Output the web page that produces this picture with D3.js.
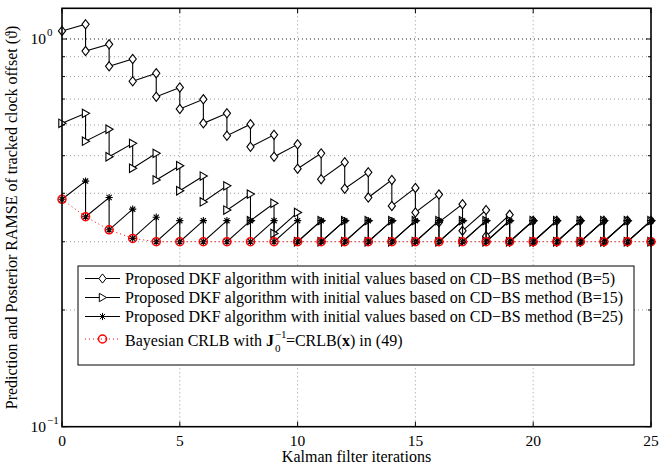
<!DOCTYPE html>
<html>
<head>
<meta charset="utf-8">
<script src="https://cdn.jsdelivr.net/npm/d3@7"></script>
<style>
  body { margin: 0; background: #fff; }
  svg { display: block; }
  text { font-family: "Liberation Serif", "Times New Roman", serif; }
</style>
</head>
<body>
<svg id="chart" width="659" height="466" font-family="Liberation Serif, Times New Roman, serif"></svg>
<script>
// Kalman filter iteration index
const iterations = [0,1,2,3,4,5,6,7,8,9,10,11,12,13,14,15,16,17,18,19,20,21,22,23,24,25];
const xTicks = [0,5,10,15,20,25];
const yTicks = [0.1, 1];

// B = 5: initial value, then prediction / posterior at iterations 1..25
const b5Init = 1.049;
const b5Pred = [1.091,0.969,0.888,0.816,0.750,0.699,0.643,0.603,0.566,0.535,0.507,0.481,0.453,0.433,0.413,0.397,0.375,0.362,0.352,0.340,0.340,0.340,0.340,0.340,0.340];
const b5Post = [0.931,0.850,0.778,0.710,0.660,0.606,0.563,0.527,0.497,0.463,0.435,0.411,0.390,0.371,0.357,0.337,0.320,0.310,0.300,0.300,0.300,0.300,0.300,0.300,0.300];

// B = 15
const b15Init = 0.606;
const b15Pred = [0.643,0.585,0.538,0.507,0.471,0.443,0.418,0.398,0.377,0.357,0.340,0.340,0.340,0.340,0.340,0.340,0.340,0.340,0.340,0.340,0.340,0.340,0.340,0.340,0.340];
const b15Post = [0.545,0.497,0.464,0.433,0.406,0.380,0.362,0.340,0.315,0.300,0.300,0.300,0.300,0.300,0.300,0.300,0.300,0.300,0.300,0.300,0.300,0.300,0.300,0.300,0.300];

// B = 25
const b25Init = 0.386;
const b25Pred = [0.430,0.390,0.364,0.347,0.340,0.340,0.340,0.340,0.340,0.340,0.340,0.340,0.340,0.340,0.340,0.340,0.340,0.340,0.340,0.340,0.340,0.340,0.340,0.340,0.340];
const b25Post = [0.348,0.322,0.306,0.300,0.300,0.300,0.300,0.300,0.300,0.300,0.300,0.300,0.300,0.300,0.300,0.300,0.300,0.300,0.300,0.300,0.300,0.300,0.300,0.300,0.300];

// Bayesian CRLB at iterations 0..25
const crlb = [0.386,0.348,0.322,0.306,0.300,0.300,0.300,0.300,0.300,0.300,0.300,0.300,0.300,0.300,0.300,0.300,0.300,0.300,0.300,0.300,0.300,0.300,0.300,0.300,0.300,0.300];

const legendLabels = [
  "Proposed DKF algorithm with initial values based on CD\u2212BS method (B=5)",
  "Proposed DKF algorithm with initial values based on CD\u2212BS method (B=15)",
  "Proposed DKF algorithm with initial values based on CD\u2212BS method (B=25)"
];

const svg = d3.select("#chart");
const L = 62, R = 651, T = 8.3, B = 426.7;

const x = d3.scaleLinear().domain([0, 25]).range([L, R]);
const y = d3.scaleLog().domain([0.1, 1.2]).range([B, T]);

// ---- grid ----
const grid = svg.append("g");
const minorY = [0.2,0.3,0.4,0.5,0.6,0.7,0.8,0.9];
grid.selectAll("line.minor").data(minorY).join("line")
  .attr("x1", L).attr("x2", R)
  .attr("y1", d => y(d)).attr("y2", d => y(d))
  .attr("stroke", "#9a9a9a").attr("stroke-width", 1)
  .attr("stroke-dasharray", "1,3");
grid.selectAll("line.major").data([1]).join("line")
  .attr("x1", L).attr("x2", R)
  .attr("y1", d => y(d)).attr("y2", d => y(d))
  .attr("stroke", "#222").attr("stroke-width", 1)
  .attr("stroke-dasharray", "1,3");
grid.selectAll("line.vx").data(xTicks.slice(1, -1)).join("line")
  .attr("x1", d => x(d)).attr("x2", d => x(d))
  .attr("y1", T).attr("y2", B)
  .attr("stroke", "#9a9a9a").attr("stroke-width", 1)
  .attr("stroke-dasharray", "1,3");

// ---- markers ----
const diamondPath = "M0,-4.6L3.6,0L0,4.6L-3.6,0Z";
const triPath = "M-3.2,-4.2L4,0L-3.2,4.2Z";
const starPath = "M-3.6,0L3.6,0M0,-3.6L0,3.6M-2.6,-2.6L2.6,2.6M-2.6,2.6L2.6,-2.6";

function sawtooth(init, pred, post) {
  const pts = [[0, init]];
  pred.forEach((p, i) => { pts.push([i + 1, p]); pts.push([i + 1, post[i]]); });
  return pts;
}

const line = d3.line().x(d => x(d[0])).y(d => y(d[1]));

const series = [
  { pts: sawtooth(b5Init, b5Pred, b5Post), marker: diamondPath, fill: "#fff" },
  { pts: sawtooth(b15Init, b15Pred, b15Post), marker: triPath, fill: "#fff" },
  { pts: sawtooth(b25Init, b25Pred, b25Post), marker: starPath, fill: "none" }
];

const plot = svg.append("g");
series.forEach(s => {
  plot.append("path").datum(s.pts).attr("d", line)
    .attr("fill", "none").attr("stroke", "#000").attr("stroke-width", 1.1);
  plot.append("g").selectAll("path").data(s.pts).join("path")
    .attr("transform", d => `translate(${x(d[0])},${y(d[1])})`)
    .attr("d", s.marker)
    .attr("fill", s.fill).attr("stroke", "#000").attr("stroke-width", 1.1);
});

// CRLB curve
const crlbPts = iterations.map((k, i) => [k, crlb[i]]);
plot.append("path").datum(crlbPts).attr("d", line)
  .attr("fill", "none").attr("stroke", "#ff0000").attr("stroke-width", 1)
  .attr("stroke-dasharray", "1,3");
plot.append("g").selectAll("circle").data(crlbPts).join("circle")
  .attr("cx", d => x(d[0])).attr("cy", d => y(d[1])).attr("r", 4)
  .attr("fill", "none").attr("stroke", "#ff0000").attr("stroke-width", 1.5);

// ---- axes ----
const axes = svg.append("g");
const tick = 5;
axes.selectAll("line.xb").data(xTicks).join("line")
  .attr("x1", d => x(d)).attr("x2", d => x(d)).attr("y1", B).attr("y2", B - tick)
  .attr("stroke", "#000");
axes.selectAll("line.xt").data(xTicks).join("line")
  .attr("x1", d => x(d)).attr("x2", d => x(d)).attr("y1", T).attr("y2", T + tick)
  .attr("stroke", "#000");
const allY = yTicks.concat(minorY);
axes.selectAll("line.yl").data(allY).join("line")
  .attr("x1", L).attr("x2", d => L + (yTicks.includes(d) ? tick : 3))
  .attr("y1", d => y(d)).attr("y2", d => y(d)).attr("stroke", "#000");
axes.selectAll("line.yr").data(allY).join("line")
  .attr("x1", R).attr("x2", d => R - (yTicks.includes(d) ? tick : 3))
  .attr("y1", d => y(d)).attr("y2", d => y(d)).attr("stroke", "#000");

axes.append("rect").attr("x", L).attr("y", T).attr("width", R - L).attr("height", B - T)
  .attr("fill", "none").attr("stroke", "#000").attr("stroke-width", 1.6);

axes.selectAll("text.xl").data(xTicks).join("text")
  .attr("x", d => x(d)).attr("y", 446)
  .attr("text-anchor", "middle").attr("font-size", 15.5).text(d => d);

yTicks.forEach(v => {
  const exp = Math.round(Math.log10(v));
  const yy = y(v);
  axes.append("text").attr("x", 46).attr("y", yy + 5)
    .attr("text-anchor", "end").attr("font-size", 15.5).text("10");
  axes.append("text").attr("x", 47).attr("y", yy - 3)
    .attr("font-size", 11).text(exp < 0 ? "\u2212" + (-exp) : String(exp));
});

svg.append("text").attr("x", (L + R) / 2).attr("y", 462)
  .attr("text-anchor", "middle").attr("font-size", 16).text("Kalman filter iterations");
svg.append("text")
  .attr("transform", `translate(17,${(T + B) / 2}) rotate(-90)`)
  .attr("text-anchor", "middle").attr("font-size", 16)
  .text("Prediction and Posterior RAMSE of tracked clock offset (\u03d1)");

// ---- legend ----
const lg = svg.append("g");
lg.append("rect").attr("x", 78).attr("y", 266).attr("width", 556).attr("height", 99)
  .attr("fill", "#fff").attr("stroke", "#000").attr("stroke-width", 1);
const rowY = [278.5, 297.5, 316.5];
const markers = [diamondPath, triPath, starPath];
const fs = 16;
legendLabels.forEach((lab, i) => {
  lg.append("line").attr("x1", 85).attr("x2", 120).attr("y1", rowY[i]).attr("y2", rowY[i])
    .attr("stroke", "#000");
  lg.append("path").attr("d", markers[i]).attr("transform", `translate(102.5,${rowY[i]})`)
    .attr("fill", i < 2 ? "#fff" : "none").attr("stroke", "#000");
  lg.append("text").attr("x", 125).attr("y", rowY[i] + 5.5).attr("font-size", fs).text(lab);
});
const r4 = 339;
lg.append("line").attr("x1", 85).attr("x2", 120).attr("y1", r4).attr("y2", r4)
  .attr("stroke", "#ff0000").attr("stroke-dasharray", "1,3");
lg.append("circle").attr("cx", 102.5).attr("cy", r4).attr("r", 4)
  .attr("fill", "none").attr("stroke", "#ff0000").attr("stroke-width", 1.5);
const t4 = lg.append("text").attr("x", 125).attr("y", r4 + 7).attr("font-size", fs);
t4.append("tspan").text("Bayesian CRLB with ");
t4.append("tspan").attr("font-weight", "bold").text("J");
const w4 = t4.node().getComputedTextLength();
lg.append("text").attr("x", 125 + w4 + 1).attr("y", r4 - 1).attr("font-size", 11).text("\u22121");
lg.append("text").attr("x", 125 + w4 + 1).attr("y", r4 + 13).attr("font-size", 11).text("0");
const t5 = lg.append("text").attr("x", 125 + w4 + 12).attr("y", r4 + 7).attr("font-size", fs);
t5.append("tspan").text("=CRLB(");
t5.append("tspan").attr("font-weight", "bold").text("x");
t5.append("tspan").text(") in (49)");
</script>
</body>
</html>
